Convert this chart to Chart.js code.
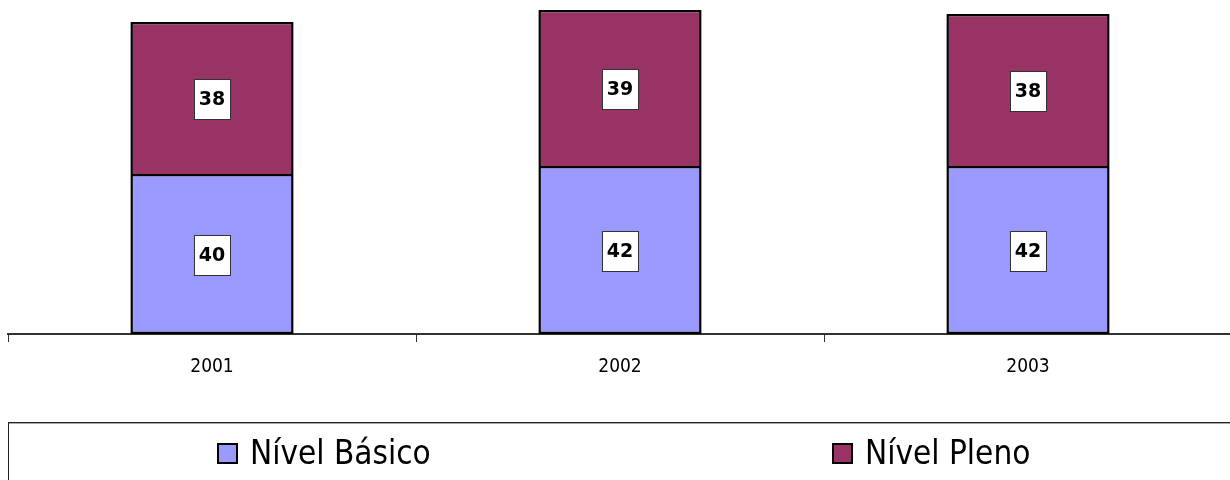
<!DOCTYPE html>
<html>
<head>
<meta charset="utf-8">
<script src="https://cdn.jsdelivr.net/npm/chart.js@4/dist/chart.umd.min.js"></script>
<style>
  html, body { margin: 0; padding: 0; background: #fff; overflow: hidden; }
  #wrap { width: 1232px; height: 480px; }
  canvas { display: block; }
</style>
</head>
<body>
<div id="wrap"><canvas id="c" width="1232" height="480"></canvas></div>
<script>
// Anos e percentuais por nível
const categories = ['2001', '2002', '2003'];
const nivelBasico = [40, 42, 42];
const nivelPleno = [38, 39, 38];
const seriesNames = ['Nível Básico', 'Nível Pleno'];

const FONT = "'DejaVu Sans Condensed', 'Liberation Sans', sans-serif";
const FONT_VALUES = "'DejaVu Sans', 'Liberation Sans', sans-serif";
const colors = ['#9999FF', '#993366'];

// Caixas brancas com o valor no centro de cada segmento
const valueBoxes = {
  id: 'valueBoxes',
  afterDatasetsDraw(chart) {
    const ctx = chart.ctx;
    ctx.save();
    ctx.font = 'bold 19px ' + FONT_VALUES;
    ctx.textAlign = 'center';
    ctx.textBaseline = 'middle';
    chart.data.datasets.forEach((ds, i) => {
      chart.getDatasetMeta(i).data.forEach((bar, j) => {
        const txt = String(ds.data[j]);
        const cx = bar.x;
        const cy = (bar.y + bar.base) / 2 + 1;
        const w = Math.round(ctx.measureText(txt).width) + 10;
        const h = 40;
        const x0 = Math.round(cx - w / 2) + 0.5;
        const y0 = Math.round(cy - h / 2) + 0.5;
        ctx.fillStyle = '#ffffff';
        ctx.fillRect(x0, y0, w, h);
        ctx.strokeStyle = '#333333';
        ctx.lineWidth = 1;
        ctx.strokeRect(x0, y0, w, h);
        ctx.fillStyle = '#000000';
        ctx.fillText(txt, cx, cy + 1);
      });
    });
    ctx.restore();
  }
};

// Legenda em caixa na parte inferior
const boxLegend = {
  id: 'boxLegend',
  afterDraw(chart) {
    const ctx = chart.ctx;
    ctx.save();
    ctx.strokeStyle = '#222';
    ctx.lineWidth = 1;
    ctx.strokeRect(8.5, 422.5, 1400, 200);
    ctx.strokeStyle = '#aaa';
    ctx.beginPath();
    ctx.moveTo(9, 423.5); ctx.lineTo(1400, 423.5);
    ctx.stroke();
    const itemX = [217, 832];
    ctx.font = '33px ' + FONT;
    ctx.textBaseline = 'middle';
    ctx.textAlign = 'left';
    chart.data.datasets.forEach((ds, i) => {
      const x = itemX[i];
      ctx.fillStyle = ds.backgroundColor;
      ctx.fillRect(x, 443, 21, 21);
      ctx.strokeStyle = '#000';
      ctx.lineWidth = 2;
      ctx.strokeRect(x + 1, 444, 19, 19);
      ctx.fillStyle = '#000';
      ctx.fillText(ds.label, x + 33, 455);
    });
    ctx.restore();
  }
};

new Chart(document.getElementById('c'), {
  type: 'bar',
  data: {
    labels: categories,
    datasets: [
      { label: seriesNames[0], data: nivelBasico, backgroundColor: colors[0], borderSkipped: false },
      { label: seriesNames[1], data: nivelPleno, backgroundColor: colors[1], borderSkipped: 'bottom' }
    ]
  },
  options: {
    responsive: false,
    animation: false,
    layout: { padding: { top: 6, left: 8, right: 0, bottom: 0 } },
    datasets: {
      bar: {
        borderColor: '#000',
        borderWidth: 2.5,
        categoryPercentage: 0.4,
        barPercentage: 1
      }
    },
    plugins: {
      legend: { display: false },
      tooltip: { enabled: false }
    },
    scales: {
      x: {
        stacked: true,
        afterFit(scale) { scale.height = 146; },
        grid: {
          display: true,
          offset: true,
          drawOnChartArea: false,
          drawTicks: true,
          tickLength: 8,
          color: '#333',
          lineWidth: 1
        },
        border: { display: true, color: '#333', width: 2 },
        ticks: {
          color: '#000',
          font: { family: FONT, size: 19 },
          padding: 14
        }
      },
      y: {
        stacked: true,
        display: false,
        min: 0,
        max: 82
      }
    }
  },
  plugins: [valueBoxes, boxLegend]
});
</script>
</body>
</html>
